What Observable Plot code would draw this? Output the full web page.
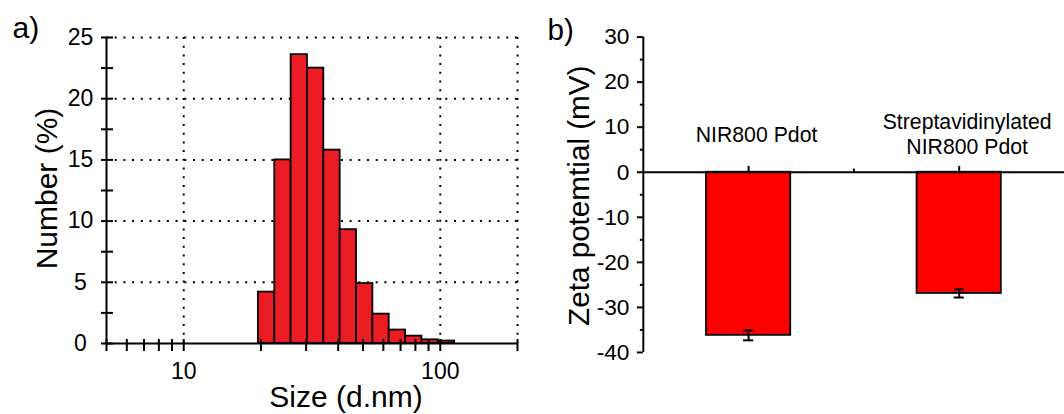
<!DOCTYPE html>
<html><head><meta charset="utf-8">
<script src="https://cdn.jsdelivr.net/npm/d3@7"></script>
<script src="https://cdn.jsdelivr.net/npm/@observablehq/plot@0.6"></script>
<style>
html,body{margin:0;padding:0;background:#fff;overflow:hidden;width:1064px;height:414px}
#wrap{position:relative;width:1064px;height:414px;overflow:hidden}
#a{position:absolute;left:0;top:0}
#b{position:absolute;left:540px;top:0}
</style></head><body><div id="wrap"><div id="a"></div><div id="b"></div></div>
<script>
// Panel a: size distribution (DLS, number %)
const binEdges = [19.55, 22.64, 26.22, 30.36, 35.16, 40.72, 47.16, 54.61, 63.24, 73.24, 84.82, 98.23, 113.8];
const numberPct = [4.2, 15.0, 23.6, 22.5, 15.8, 9.3, 4.9, 2.4, 1.1, 0.6, 0.3, 0.2];
const sizeTicks = [5, 6, 7, 8, 9, 10, 20, 30, 40, 50, 60, 70, 80, 90, 100, 200];
const sizeLabels = [10, 100];
const sizeGrid = [10, 100, 200];
const numberTicks = [0, 5, 10, 15, 20, 25];
const numberMinor = [2.5, 7.5, 12.5, 17.5, 22.5];

// Panel b: zeta potential
const samples = ["NIR800 Pdot", "Streptavidinylated\nNIR800 Pdot"];
const zeta = [-36.2, -26.9];
const zetaErr = [1.1, 0.9];
const zetaTicks = [-40, -30, -20, -10, 0, 10, 20, 30];
const zetaMinor = [-35, -25, -15, -5, 5, 15, 25];

const font = "'Liberation Sans', Arial, sans-serif";
const dots = {stroke: "#000", strokeWidth: 2, strokeDasharray: "2 6.7"};

const bins = numberPct.map((v, i) => ({x1: binEdges[i], x2: binEdges[i + 1], y: v}));

const pa = Plot.plot({
  width: 540, height: 414,
  marginLeft: 106, marginRight: 23, marginTop: 37, marginBottom: 71,
  style: {fontFamily: font, fontSize: "23px", color: "#000", background: "transparent", overflow: "visible"},
  x: {type: "log", domain: [5, 200], label: null},
  y: {domain: [0, 25], label: null},
  marks: [
    Plot.ruleY(numberTicks.slice(1), dots),
    Plot.ruleX(sizeGrid, dots),
    Plot.rectY(bins, {x1: "x1", x2: "x2", y1: 0, y2: "y", fill: "#ec1c24", stroke: "#000", strokeWidth: 1.8}),
    Plot.ruleY([0], {stroke: "#000", strokeWidth: 2}),
    Plot.ruleX([5], {stroke: "#000", strokeWidth: 2}),
    Plot.axisX({ticks: sizeTicks, tickSize: 12, dy: -4, tickFormat: () => "", strokeWidth: 2, label: null}),
    Plot.axisX({ticks: sizeLabels, tickSize: 0, tickPadding: 19, tickFormat: d => String(d), label: null}),
    Plot.axisY({ticks: numberTicks.concat(numberMinor), tickSize: 12, dx: 7, tickFormat: () => "", strokeWidth: 2, label: null}),
    Plot.axisY({ticks: numberTicks, tickSize: 0, tickPadding: 26, textAnchor: "middle", tickFormat: d => String(d), label: null}),
    Plot.text(["Number (%)"], {frameAnchor: "left", dx: -50, dy: -2, rotate: -90, textAnchor: "middle", lineAnchor: "bottom", fontSize: 30}),
    Plot.text(["Size (d.nm)"], {frameAnchor: "bottom", dx: 34, dy: 63, textAnchor: "middle", lineAnchor: "bottom", fontSize: 30}),
    Plot.text(["a)"], {frameAnchor: "top-left", dx: -94, dy: 0, textAnchor: "start", lineAnchor: "bottom", fontSize: 30})
  ]
});
document.getElementById("a").appendChild(pa);

const bars = samples.map((s, i) => ({pos: i + 1, name: s, v: zeta[i], e: zetaErr[i]}));

const pb = Plot.plot({
  width: 530, height: 414,
  marginLeft: 104, marginRight: 0, marginTop: 37, marginBottom: 58,
  style: {fontFamily: font, fontSize: "23px", color: "#000", background: "transparent", overflow: "visible"},
  x: {domain: [0.5, 2.5], axis: null, label: null},
  y: {domain: [-40, 30], label: null},
  marks: [
    Plot.rectY(bars, {x1: d => d.pos - 0.2, x2: d => d.pos + 0.2, y1: 0, y2: "v", fill: "#ff0000", stroke: "#000", strokeWidth: 1.8}),
    Plot.ruleX(bars, {x: "pos", y1: d => d.v - d.e, y2: d => d.v + d.e, stroke: "#000", strokeWidth: 2}),
    Plot.ruleY(bars, {y: d => d.v - d.e, x1: d => d.pos - 0.024, x2: d => d.pos + 0.024, stroke: "#000", strokeWidth: 2}),
    Plot.ruleY(bars, {y: d => d.v + d.e, x1: d => d.pos - 0.024, x2: d => d.pos + 0.024, stroke: "#000", strokeWidth: 2}),
    Plot.ruleY([0], {stroke: "#000", strokeWidth: 2}),
    Plot.ruleX([0.5], {stroke: "#000", strokeWidth: 2}),
    Plot.ruleX(bars, {x: "pos", y1: 0, y2: 1.3, stroke: "#000", strokeWidth: 2}),
    Plot.ruleX([1.5], {y1: 0, y2: 0.7, stroke: "#000", strokeWidth: 2}),
    Plot.axisY({ticks: zetaTicks, tickSize: 6, tickFormat: () => "", strokeWidth: 2, label: null}),
    Plot.axisY({ticks: zetaMinor, tickSize: 3, tickFormat: () => "", strokeWidth: 2, label: null}),
    Plot.axisY({ticks: zetaTicks, tickSize: 0, tickPadding: 14, tickFormat: d => String(d), label: null}),
    Plot.text(bars, {x: "pos", y: 0, text: "name", dx: 8, dy: -39, lineAnchor: "middle", fontSize: 21.5, lineHeight: 1.16}),
    Plot.text(["Zeta potemtial (mV)"], {frameAnchor: "left", dx: -55, dy: 1, rotate: -90, textAnchor: "middle", lineAnchor: "bottom", fontSize: 30}),
    Plot.text(["b)"], {frameAnchor: "top-left", dx: -97, dy: 3, textAnchor: "start", lineAnchor: "bottom", fontSize: 30})
  ]
});
document.getElementById("b").appendChild(pb);
</script></body></html>
